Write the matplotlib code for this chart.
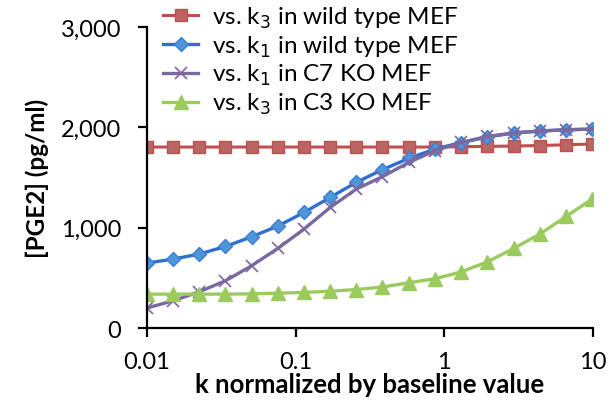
import matplotlib.pyplot as plt
from matplotlib.ticker import FuncFormatter, FixedLocator, NullLocator

plt.rcParams['font.family'] = ['Lato', 'DejaVu Sans']

# k normalized values (log-spaced, factor 1.5)
k_vals = [0.01, 0.015, 0.0225, 0.0338, 0.0506, 0.0759, 0.114, 0.171, 0.256,
          0.384, 0.577, 0.865, 1.30, 1.95, 2.92, 4.38, 6.57, 9.85]

k3_wt = [1805, 1805, 1805, 1805, 1805, 1805, 1805, 1805, 1805,
         1805, 1805, 1805, 1808, 1812, 1815, 1820, 1828, 1835]
k1_wt = [648, 688, 738, 814, 910, 1017, 1153, 1303, 1453,
         1580, 1692, 1785, 1850, 1905, 1945, 1965, 1977, 1984]
k1_c7 = [200, 272, 362, 472, 621, 794, 987, 1203, 1386,
         1510, 1652, 1768, 1851, 1911, 1945, 1964, 1977, 1984]
k3_c3 = [339, 339, 339, 339, 342, 348, 356, 368, 385,
         410, 452, 492, 561, 661, 794, 937, 1113, 1286]

labels = ["vs. k$_3$ in wild type MEF", "vs. k$_1$ in wild type MEF",
          "vs. k$_1$ in C7 KO MEF", "vs. k$_3$ in C3 KO MEF"]

fig = plt.figure(figsize=(6.14, 4.14), dpi=100)
ax = fig.add_axes([0.239, 0.205, 0.727, 0.727])

ax.plot(k_vals, k3_wt, color='#C0504D', lw=2.2, marker='s', ms=9,
        mfc='#B86563', mec='#C0504D', label=labels[0])
ax.plot(k_vals, k1_wt, color='#2F6FD0', lw=2.4, marker='D', ms=7.5,
        mfc='#4F95DA', mec='#3A7FD5', label=labels[1])
ax.plot(k_vals, k1_c7, color='#786A9E', lw=2.4, marker='x', ms=8, mew=1.2,
        mec='#8064A2', label=labels[2])
ax.plot(k_vals, k3_c3, color='#9BCB5F', lw=2.4, marker='^', ms=10,
        mfc='#9BCB5F', mec='#9BCB5F', label=labels[3])

ax.set_xscale('log')
ax.set_xlim(0.01, 10)
ax.set_ylim(0, 3000)
ax.xaxis.set_major_locator(FixedLocator([0.01, 0.1, 1, 10]))
ax.xaxis.set_minor_locator(NullLocator())
ax.xaxis.set_major_formatter(FuncFormatter(lambda v, p: '%g' % v))
ax.set_yticks([0, 1000, 2000, 3000])
ax.yaxis.set_major_formatter(FuncFormatter(lambda v, p: format(int(v), ',')))

for s in ['top', 'right']:
    ax.spines[s].set_visible(False)
for s in ['left', 'bottom']:
    ax.spines[s].set_linewidth(1.6)
ax.tick_params(axis='both', direction='out', length=6.5, width=1.6,
               labelsize=17, pad=12)
ax.tick_params(axis='x', pad=10)

ax.set_xlabel("k normalized by baseline value", fontsize=18.5, fontweight='bold', labelpad=0)
ax.set_ylabel("[PGE2] (pg/ml)", fontsize=17.5, fontweight='bold', labelpad=8)

ax.legend(loc='upper left', bbox_to_anchor=(0.25, 1.01), bbox_transform=fig.transFigure,
          frameon=False, fontsize=17.5, handlelength=1.45, labelspacing=0.15,
          borderaxespad=0.2, handletextpad=0.55, borderpad=0.2)

fig.savefig("out.png", dpi=100)
